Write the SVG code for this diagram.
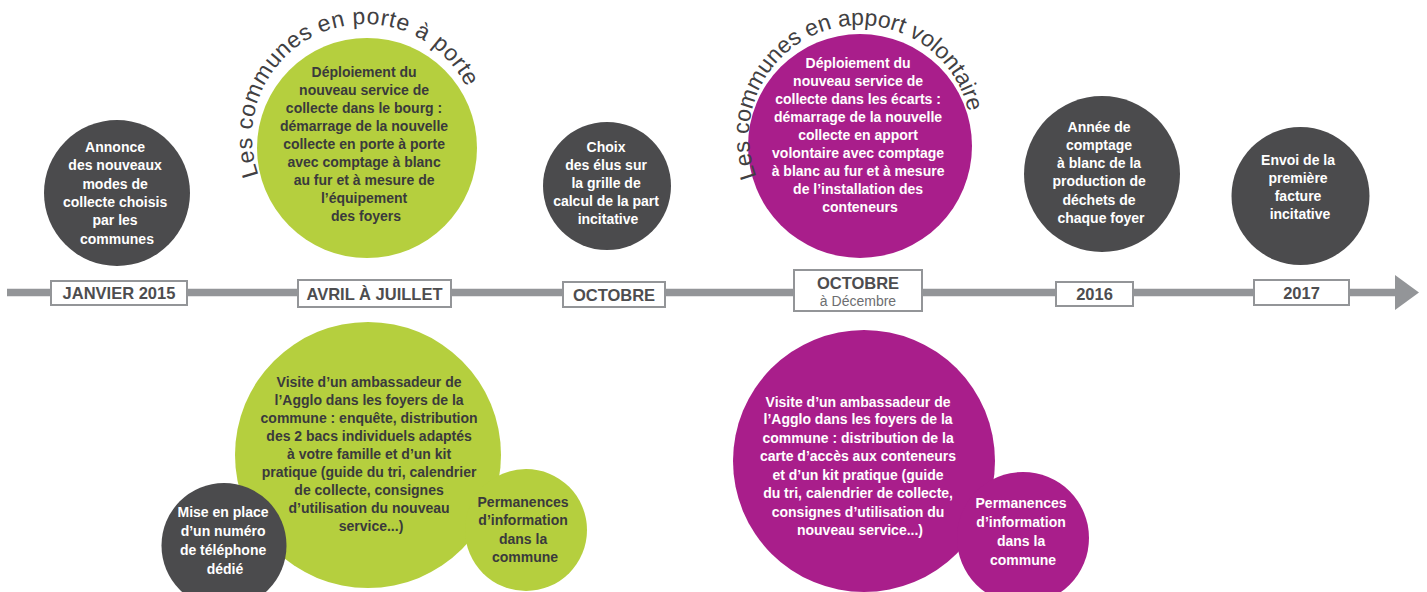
<svg xmlns="http://www.w3.org/2000/svg" width="1427" height="592" viewBox="0 0 1427 592">
<style>
.dark{fill:#4b4b4d}
.green{fill:#b5cf3e}
.mag{fill:#a91e8b}
.t{font-family:"Liberation Sans",Arial,sans-serif;font-weight:bold;font-size:14px;text-anchor:middle}
.w{fill:#ffffff}
.k{fill:#3a3a3c}
.box{fill:#ffffff;stroke:#939598;stroke-width:2}
.bt{font-family:"Liberation Sans",Arial,sans-serif;font-weight:bold;font-size:16.5px;fill:#4d4d4f;text-anchor:middle}
.arc{font-family:"Liberation Sans",Arial,sans-serif;font-size:23px;fill:#414042}
</style>
<defs>
<path id="arcPorte" d="M258.6,175.1 A113,113 0 1 1 476.3,156.6"/>
<path id="arcApport" d="M756.7,176.7 A111,111 0 1 1 969.3,155.3"/>
</defs>
<rect width="1427" height="592" fill="#ffffff"/>

<g id="connectors">
<line x1="7" y1="292.5" x2="1397" y2="292.5" stroke="#939598" stroke-width="7.5"/>
<polygon points="1395,275 1419,292.5 1395,310" fill="#939598"/>
</g>

<g id="label-janvier">
<rect class="box" x="51" y="281" width="136" height="24"/>
<text class="bt" x="119" y="299">JANVIER 2015</text>
</g>
<g id="label-avril">
<rect class="box" x="298" y="280" width="153" height="27"/>
<text class="bt" x="374.5" y="299.5">AVRIL À JUILLET</text>
</g>
<g id="label-octobre">
<rect class="box" x="563" y="282" width="102" height="25"/>
<text class="bt" x="614" y="300.5">OCTOBRE</text>
</g>
<g id="label-octobre-decembre">
<rect class="box" x="794" y="270" width="128" height="41"/>
<text class="bt" x="858" y="289">OCTOBRE</text>
<text x="858" y="306" font-family="Liberation Sans, Arial, sans-serif" font-size="14" fill="#6d6e71" text-anchor="middle">à Décembre</text>
</g>
<g id="label-2016">
<rect class="box" x="1056" y="282" width="77" height="24"/>
<text class="bt" x="1094.5" y="300">2016</text>
</g>
<g id="label-2017">
<rect class="box" x="1254" y="280" width="95" height="25"/>
<text class="bt" x="1301.5" y="298.5">2017</text>
</g>

<g id="node-annonce">
<circle class="dark" cx="117" cy="193" r="73"/>
<text class="t w">
<tspan x="117" y="152">Annonce</tspan>
<tspan x="117" y="170">des nouveaux</tspan>
<tspan x="117" y="189">modes de</tspan>
<tspan x="117" y="207">collecte choisis</tspan>
<tspan x="117" y="225">par les</tspan>
<tspan x="117" y="244">communes</tspan>
</text>
</g>

<g id="node-porte-a-porte">
<circle class="green" cx="367" cy="148" r="110"/>
<text class="arc"><textPath href="#arcPorte" letter-spacing="0.6">Les communes en porte à porte</textPath></text>
<text class="t k">
<tspan x="366" y="77">Déploiement du</tspan>
<tspan x="366" y="95">nouveau service de</tspan>
<tspan x="366" y="113">collecte dans le bourg :</tspan>
<tspan x="366" y="131">démarrage de la nouvelle</tspan>
<tspan x="366" y="149">collecte en porte à porte</tspan>
<tspan x="366" y="167">avec comptage à blanc</tspan>
<tspan x="366" y="185">au fur et à mesure de</tspan>
<tspan x="366" y="203">l’équipement</tspan>
<tspan x="366" y="221">des foyers</tspan>
</text>
</g>

<g id="node-choix">
<circle class="dark" cx="607" cy="186" r="64"/>
<text class="t w">
<tspan x="608" y="152">Choix</tspan>
<tspan x="608" y="170">des élus sur</tspan>
<tspan x="608" y="188">la grille de</tspan>
<tspan x="608" y="206">calcul de la part</tspan>
<tspan x="608" y="224">incitative</tspan>
</text>
</g>

<g id="node-apport-volontaire">
<circle class="mag" cx="860" cy="146" r="112"/>
<text class="arc"><textPath href="#arcApport">Les communes en apport volontaire</textPath></text>
<text class="t w">
<tspan x="860" y="68">Déploiement du</tspan>
<tspan x="860" y="86">nouveau service de</tspan>
<tspan x="860" y="104">collecte dans les écarts :</tspan>
<tspan x="860" y="122">démarrage de la nouvelle</tspan>
<tspan x="860" y="140">collecte en apport</tspan>
<tspan x="860" y="158">volontaire avec comptage</tspan>
<tspan x="860" y="176">à blanc au fur et à mesure</tspan>
<tspan x="860" y="194">de l’installation des</tspan>
<tspan x="860" y="212">conteneurs</tspan>
</text>
</g>

<g id="node-2016">
<circle class="dark" cx="1102" cy="174" r="78"/>
<text class="t w">
<tspan x="1101" y="132">Année de</tspan>
<tspan x="1101" y="150">comptage</tspan>
<tspan x="1101" y="168">à blanc de la</tspan>
<tspan x="1101" y="186">production de</tspan>
<tspan x="1101" y="205">déchets de</tspan>
<tspan x="1101" y="223">chaque foyer</tspan>
</text>
</g>

<g id="node-2017">
<circle class="dark" cx="1300.5" cy="196" r="69"/>
<text class="t w">
<tspan x="1300" y="165">Envoi de la</tspan>
<tspan x="1300" y="183">première</tspan>
<tspan x="1300" y="201">facture</tspan>
<tspan x="1300" y="219">incitative</tspan>
</text>
</g>

<g id="node-visite-porte">
<circle class="green" cx="368" cy="455" r="133"/>
<text class="t k">
<tspan x="371" y="387">Visite d’un ambassadeur de</tspan>
<tspan x="371" y="405">l’Agglo dans les foyers de la</tspan>
<tspan x="371" y="423">commune : enquête, distribution</tspan>
<tspan x="371" y="441">des 2 bacs individuels adaptés</tspan>
<tspan x="371" y="459">à votre famille et d’un kit</tspan>
<tspan x="371" y="477">pratique (guide du tri, calendrier</tspan>
<tspan x="371" y="495">de collecte, consignes</tspan>
<tspan x="371" y="513">d’utilisation du nouveau</tspan>
<tspan x="371" y="531">service...)</tspan>
</text>
</g>

<g id="node-telephone">
<circle class="dark" cx="224" cy="545.5" r="62.5"/>
<text class="t w">
<tspan x="225" y="517">Mise en place</tspan>
<tspan x="225" y="536">d’un numéro</tspan>
<tspan x="225" y="555">de téléphone</tspan>
<tspan x="225" y="574">dédié</tspan>
</text>
</g>

<g id="node-permanences-porte">
<circle class="green" cx="526" cy="530" r="61"/>
<text class="t k">
<tspan x="525" y="507">Permanences</tspan>
<tspan x="525" y="525">d’information</tspan>
<tspan x="525" y="544">dans la</tspan>
<tspan x="525" y="562">commune</tspan>
</text>
</g>

<g id="node-visite-apport">
<circle class="mag" cx="864" cy="461" r="131"/>
<text class="t w">
<tspan x="860" y="407">Visite d’un ambassadeur de</tspan>
<tspan x="860" y="424">l’Agglo dans les foyers de la</tspan>
<tspan x="860" y="443">commune : distribution de la</tspan>
<tspan x="860" y="461">carte d’accès aux conteneurs</tspan>
<tspan x="860" y="480">et d’un kit pratique (guide</tspan>
<tspan x="860" y="498">du tri, calendrier de collecte,</tspan>
<tspan x="860" y="517">consignes d’utilisation du</tspan>
<tspan x="860" y="535">nouveau service...)</tspan>
</text>
</g>

<g id="node-permanences-apport">
<circle class="mag" cx="1023" cy="538" r="66"/>
<text class="t w">
<tspan x="1023" y="508">Permanences</tspan>
<tspan x="1023" y="527">d’information</tspan>
<tspan x="1023" y="546">dans la</tspan>
<tspan x="1023" y="565">commune</tspan>
</text>
</g>
</svg>
